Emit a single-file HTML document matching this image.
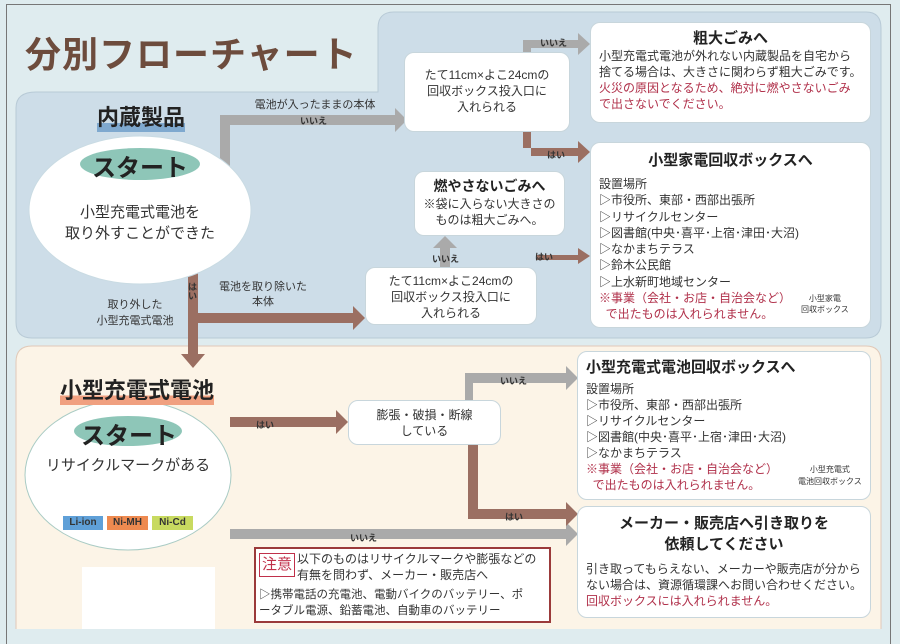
<!DOCTYPE html>
<html><head><meta charset="utf-8"><style>
*{margin:0;padding:0;box-sizing:border-box}
body{width:900px;height:629px;overflow:hidden;background:#dfecef;font-family:"Liberation Sans","Noto Sans CJK JP",sans-serif;color:#333;position:relative}
.a{position:absolute}
.box{position:absolute;background:#fff;border:1px solid #c8d6dc;border-radius:10px}
.c{text-align:center}
.t{font-size:12px;line-height:16px}
.red{color:#b0304a}
.lbl{position:absolute;font-size:9px;font-weight:bold;color:#333}
</style></head><body>
<div class="a" style="left:6px;top:4px;width:885px;height:640px;border:1.5px solid #777;border-bottom:none"></div>
<svg class="a" style="left:0;top:0" width="900" height="629">
<path d="M36 92 H378 V28 Q378 12 394 12 H866 Q881 12 881 28 V322 Q881 338 866 338 H32 Q16 338 16 322 V108 Q16 92 36 92Z" fill="#cddde8" stroke="#b8cad6"/>
<path d="M32 346 H866 Q881 346 881 362 V640 H16 V362 Q16 346 32 346Z" fill="#fcf4e7" stroke="#e0c9b8"/>
<g fill="#aaa">
<path d="M220 180 V115 H395 V108 L407 120 L395 132 V125 H230 V180Z"/>
<path d="M523 55 V40 H578 V33 L590 44 L578 55 V48 H531 V55Z"/>
<path d="M440 268 V248 H433 L445 236 L457 248 H450 V268Z"/>
<path d="M465 400 V373 H566 V366 L578 378 L566 390 V383 H473 V400Z"/>
<path d="M230 529 H566 V522 L578 534 L566 546 V539 H230Z"/>
</g>
<g fill="#9b6f62">
<path d="M523 132 V148 H578 V141 L590 152 L578 163 V156 H531 V132Z"/>
<path d="M537 255 H578 V248 L590 256 L578 264 V260 H537Z"/>
<path d="M188 265 H198 V313 H353 V306 L365 318 L353 330 V323 H198 V354 H205 L193 368 L181 354 H188Z"/>
<path d="M230 417 H336 V410 L348 422 L336 434 V427 H230Z"/>
<path d="M468 445 H478 V509 H566 V502 L578 514 L566 526 V519 H468Z"/>
</g>
<ellipse cx="140" cy="210" rx="111" ry="74" fill="#fff" stroke="#c9dbe3"/>
<ellipse cx="140" cy="164" rx="60" ry="16" fill="#8ec6b8"/>
<ellipse cx="128" cy="475" rx="103" ry="75" fill="#fff" stroke="#a9cbc4"/>
<ellipse cx="128" cy="431" rx="54" ry="15" fill="#8ec6b8"/>
</svg>
<div class="a" style="left:25px;top:26px;font-size:36px;font-weight:bold;color:#6d4c3d;letter-spacing:1px">分別フローチャート</div>
<div class="a" style="left:97px;top:100px;font-size:22px;font-weight:bold;color:#222;background:linear-gradient(transparent 72%,#7fa9cf 72%)">内蔵製品</div>
<div class="a c" style="left:80px;top:148px;width:120px;font-size:24px;font-weight:bold;color:#222">スタート</div>
<div class="a c t" style="left:50px;top:202px;width:180px;font-size:15px;line-height:21px">小型充電式電池を<br>取り外すことができた</div>
<div class="a c" style="left:240px;top:96px;width:150px;font-size:11px">電池が入ったままの本体</div>
<div class="lbl" style="left:300px;top:114px">いいえ</div>
<div class="a c" style="left:218px;top:280px;width:90px;font-size:11px;line-height:15px">電池を取り除いた<br>本体</div>
<div class="a c" style="left:90px;top:297px;width:90px;font-size:11px;line-height:16px">取り外した<br>小型充電式電池</div>
<div class="lbl" style="left:188px;top:283px;width:10px;line-height:9px">は<br>い</div>
<div class="box c t" style="left:404px;top:52px;width:166px;height:80px;padding-top:14px">たて11cm×よこ24cmの<br>回収ボックス投入口に<br>入れられる</div>
<div class="lbl" style="left:540px;top:36px">いいえ</div>
<div class="lbl" style="left:547px;top:148px">はい</div>
<div class="box" style="left:590px;top:22px;width:281px;height:101px;padding:4px 8px"><div class="c" style="font-size:15px;font-weight:bold;color:#222">粗大ごみへ</div><div class="t">小型充電式電池が外れない内蔵製品を自宅から捨てる場合は、大きさに関わらず粗大ごみです。<span class="red">火災の原因となるため、絶対に燃やさないごみで出さないでください。</span></div></div>
<div class="box" style="left:590px;top:142px;width:281px;height:186px;padding:6px 8px"><div class="c" style="font-size:15px;font-weight:bold;color:#222;margin-bottom:6px">小型家電回収ボックスへ</div><div class="t" style="line-height:16.3px">設置場所<br>▷市役所、東部・西部出張所<br>▷リサイクルセンター<br>▷図書館(中央･喜平･上宿･津田･大沼)<br>▷なかまちテラス<br>▷鈴木公民館<br>▷上水新町地域センター<br><span class="red">※事業（会社・お店・自治会など）<br>&nbsp;&nbsp;で出たものは入れられません。</span></div><div class="a c" style="left:210px;top:150px;font-size:8px;line-height:11px">小型家電<br>回収ボックス</div></div>
<div class="box c" style="left:414px;top:171px;width:151px;height:65px;padding-top:4px"><div style="font-size:14px;font-weight:bold;color:#222">燃やさないごみへ</div><div class="t">※袋に入らない大きさの<br>ものは粗大ごみへ。</div></div>
<div class="lbl" style="left:432px;top:252px">いいえ</div>
<div class="lbl" style="left:535px;top:250px">はい</div>
<div class="box c t" style="left:365px;top:267px;width:172px;height:58px;padding-top:5px">たて11cm×よこ24cmの<br>回収ボックス投入口に<br>入れられる</div>
<div class="a" style="left:60px;top:373px;font-size:22px;font-weight:bold;color:#222;background:linear-gradient(transparent 70%,#f0a080 70%)">小型充電式電池</div>
<div class="a c" style="left:74px;top:416px;width:110px;font-size:24px;font-weight:bold;color:#222">スタート</div>
<div class="a c" style="left:40px;top:454px;width:176px;font-size:15px">リサイクルマークがある</div>
<div class="a" style="left:63px;top:516px;width:40px;height:14px;background:#5fa0d8;font-size:10px;font-weight:bold;text-align:center;line-height:14px">Li-ion</div>
<div class="a" style="left:107px;top:516px;width:41px;height:14px;background:#ee8a50;font-size:10px;font-weight:bold;text-align:center;line-height:14px">Ni-MH</div>
<div class="a" style="left:152px;top:516px;width:41px;height:14px;background:#c8da60;font-size:10px;font-weight:bold;text-align:center;line-height:14px">Ni-Cd</div>
<div class="lbl" style="left:256px;top:418px">はい</div>
<div class="box c t" style="left:348px;top:400px;width:153px;height:45px;padding-top:6px">膨張・破損・断線<br>している</div>
<div class="lbl" style="left:500px;top:374px">いいえ</div>
<div class="lbl" style="left:505px;top:510px">はい</div>
<div class="lbl" style="left:350px;top:531px">いいえ</div>
<div class="box" style="left:577px;top:351px;width:294px;height:149px;padding:4px 8px"><div style="font-size:15px;font-weight:bold;color:#222;margin-bottom:4px">小型充電式電池回収ボックスへ</div><div class="t">設置場所<br>▷市役所、東部・西部出張所<br>▷リサイクルセンター<br>▷図書館(中央･喜平･上宿･津田･大沼)<br>▷なかまちテラス<br><span class="red">※事業（会社・お店・自治会など）<br>&nbsp;&nbsp;で出たものは入れられません。</span></div><div class="a c" style="left:220px;top:112px;font-size:8px;line-height:12px">小型充電式<br>電池回収ボックス</div></div>
<div class="box" style="left:577px;top:506px;width:294px;height:112px;padding:6px 8px"><div class="c" style="font-size:15px;font-weight:bold;color:#222;line-height:21px">メーカー・販売店へ引き取りを<br>依頼してください</div><div class="t" style="margin-top:6px">引き取ってもらえない、メーカーや販売店が分からない場合は、資源循環課へお問い合わせください。<br><span class="red">回収ボックスには入れられません。</span></div></div>
<div class="a" style="left:254px;top:547px;width:297px;height:76px;background:#fff;border:2px solid #9b3a3a">
<div class="a" style="left:3px;top:4px;color:#c0304a;border:1px solid #c0304a;font-size:15px;padding:0 2px;height:24px;line-height:22px;white-space:nowrap">注意</div>
<div class="a" style="left:41px;top:2px;font-size:12px;line-height:16px;white-space:nowrap">以下のものはリサイクルマークや膨張などの<br>有無を問わず、メーカー・販売店へ</div>
<div class="a" style="left:3px;top:38px;font-size:11.5px;line-height:16px;white-space:nowrap">▷携帯電話の充電池、電動バイクのバッテリー、ポ<br>ータブル電源、鉛蓄電池、自動車のバッテリー</div></div>
<div class="a" style="left:82px;top:567px;width:133px;height:62px;background:#fff"></div>
</body></html>
